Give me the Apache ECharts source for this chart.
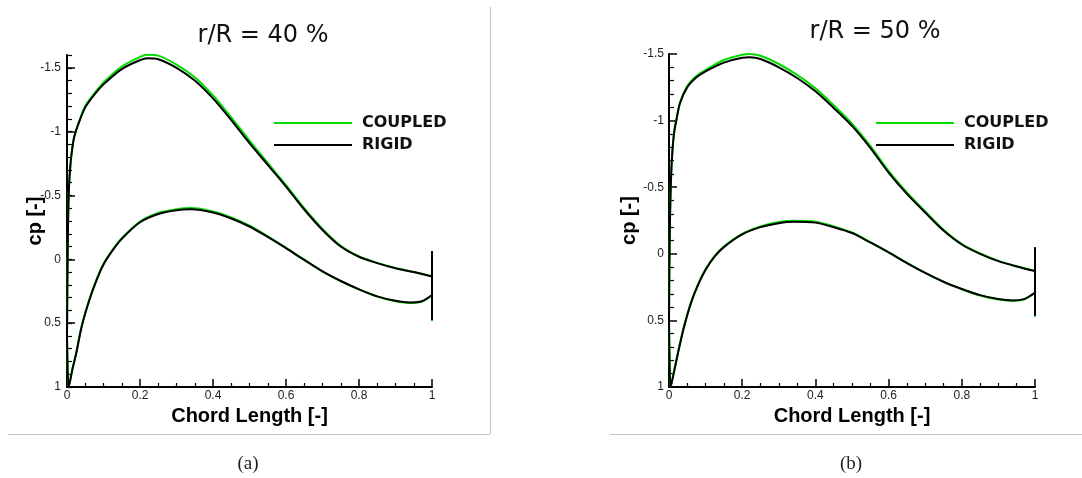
<!DOCTYPE html>
<html>
<head>
<meta charset="utf-8">
<script src="https://cdn.jsdelivr.net/npm/echarts@6/dist/echarts.min.js"></script>
<style>
html,body{margin:0;padding:0;background:#fff;}
#c{width:1082px;height:478px;}
</style>
</head>
<body>
<div id="c"></div>
<script>
// ---------- data ----------
const upperX = [0, 0.001, 0.003, 0.006, 0.01, 0.015, 0.02, 0.03, 0.05, 0.075, 0.1, 0.15, 0.2, 0.22, 0.25, 0.3, 0.35, 0.4, 0.45, 0.5, 0.55, 0.6, 0.65, 0.7, 0.75, 0.8, 0.85, 0.9, 0.95, 1.0];
const lowerX = [0.004, 0.008, 0.015, 0.025, 0.04, 0.06, 0.08, 0.1, 0.125, 0.15, 0.2, 0.25, 0.3, 0.34, 0.4, 0.45, 0.5, 0.55, 0.6, 0.65, 0.7, 0.75, 0.8, 0.85, 0.9, 0.94, 0.97, 0.99, 1.0];

// r/R = 40 %
const upper40Rigid   = [0.6, 0.2, -0.3, -0.6, -0.76, -0.88, -0.96, -1.05, -1.19, -1.29, -1.37, -1.49, -1.56, -1.575, -1.567, -1.50, -1.40, -1.26, -1.09, -0.91, -0.74, -0.57, -0.39, -0.23, -0.10, -0.02, 0.03, 0.07, 0.10, 0.135];
const upper40Coupled = [0.6, 0.2, -0.3, -0.6, -0.76, -0.88, -0.965, -1.055, -1.2, -1.3, -1.385, -1.51, -1.585, -1.602, -1.595, -1.525, -1.425, -1.283, -1.112, -0.93, -0.755, -0.58, -0.40, -0.237, -0.105, -0.022, 0.028, 0.068, 0.099, 0.133];
const lower40Rigid   = [1.0, 0.96, 0.86, 0.74, 0.53, 0.33, 0.17, 0.04, -0.07, -0.16, -0.29, -0.355, -0.385, -0.392, -0.366, -0.32, -0.257, -0.175, -0.087, 0.005, 0.095, 0.17, 0.235, 0.29, 0.325, 0.338, 0.33, 0.30, 0.28];
const lower40Coupled = [1.0, 0.955, 0.855, 0.735, 0.525, 0.325, 0.165, 0.035, -0.075, -0.165, -0.296, -0.363, -0.393, -0.401, -0.374, -0.327, -0.263, -0.18, -0.09, 0.003, 0.094, 0.17, 0.236, 0.292, 0.328, 0.342, 0.333, 0.302, 0.282];
const spike40Rigid   = [-0.065, 0.475];
const spike40Coupled = [-0.065, 0.485];

// r/R = 50 %
const upper50Rigid   = [0.5, 0.1, -0.3, -0.6, -0.8, -0.93, -1.0, -1.13, -1.25, -1.325, -1.37, -1.435, -1.472, -1.475, -1.462, -1.40, -1.32, -1.22, -1.095, -0.96, -0.795, -0.61, -0.45, -0.31, -0.175, -0.07, 0.0, 0.055, 0.095, 0.13];
const upper50Coupled = [0.5, 0.1, -0.3, -0.6, -0.8, -0.93, -1.005, -1.135, -1.26, -1.335, -1.38, -1.455, -1.495, -1.50, -1.487, -1.425, -1.343, -1.242, -1.115, -0.977, -0.81, -0.622, -0.46, -0.318, -0.18, -0.073, -0.002, 0.053, 0.094, 0.128];
const lower50Rigid   = [1.0, 0.96, 0.87, 0.74, 0.56, 0.37, 0.23, 0.12, 0.02, -0.05, -0.145, -0.2, -0.23, -0.241, -0.234, -0.2, -0.156, -0.085, -0.01, 0.07, 0.144, 0.21, 0.264, 0.31, 0.34, 0.35, 0.34, 0.31, 0.29];
const lower50Coupled = [1.0, 0.955, 0.865, 0.735, 0.555, 0.365, 0.225, 0.115, 0.015, -0.055, -0.15, -0.206, -0.238, -0.249, -0.241, -0.206, -0.16, -0.088, -0.012, 0.069, 0.144, 0.211, 0.266, 0.313, 0.343, 0.353, 0.343, 0.312, 0.292];
const spike50Rigid   = [-0.05, 0.465];
const spike50Coupled = [-0.05, 0.472];

const titles = ['r/R = 40 %', 'r/R = 50 %'];
const captions = ['(a)', '(b)'];
const seriesNames = ['COUPLED', 'RIGID'];
const xTitle = 'Chord Length [-]';
const yTitle = 'cp [-]';

// ---------- build loops ----------
function loop(upper, lower, spike) {
  const pts = [];
  for (let i = 0; i < upperX.length; i++) pts.push([upperX[i], upper[i]]);
  pts.push([1, spike[0]]);
  pts.push([1, spike[1]]);
  for (let i = lowerX.length - 1; i >= 0; i--) pts.push([lowerX[i], lower[i]]);
  pts.push([upperX[0], upper[0]]);
  return pts;
}

const GREEN = '#00dd00';
const BLACK = '#000000';
const tickFont = {fontFamily: '"Liberation Sans", Arial, sans-serif', fontSize: 12, color: '#222'};
const nameFont = {fontFamily: '"Liberation Sans", Arial, sans-serif', fontSize: 20, fontWeight: 'bold', color: '#000'};

// grid geometry
const L0 = {left: 67, top: 55, width: 365, height: 332};
const fracTop = 0.1 / 2.6;
const L1 = {left: 67, top: L0.top + L0.height * fracTop, width: 365, height: L0.height * (1 - fracTop)};
const R0 = {left: 669, top: 54, width: 366, height: 333};

function xAxisCfg(gridIndex, show) {
  return {
    type: 'value', gridIndex: gridIndex, show: show, min: 0, max: 1, interval: 0.2,
    name: xTitle, nameLocation: 'middle', nameGap: 16, nameTextStyle: nameFont,
    axisLine: {show: true, onZero: false, lineStyle: {color: '#000', width: 2}},
    axisTick: {show: true, inside: true, length: 8, lineStyle: {color: '#000', width: 1.5}},
    minorTick: {show: true, splitNumber: 4, length: 4, lineStyle: {color: '#000', width: 1.2}},
    axisLabel: Object.assign({margin: 3}, tickFont),
    splitLine: {show: false}, minorSplitLine: {show: false}
  };
}

function legendCfg(left) {
  return {
    left: left, top: 115, orient: 'vertical', padding: 0, itemGap: 6,
    icon: 'rect', itemWidth: 78, itemHeight: 2, selectedMode: false,
    data: seriesNames,
    textStyle: {fontFamily: '"DejaVu Sans", sans-serif', fontWeight: 'bold', fontSize: 16,
                color: '#111', padding: [0, 0, 0, 5], height: 14, lineHeight: 14}
  };
}

function lineSeries(name, xi, yi, data, color) {
  return {name: name, type: 'line', xAxisIndex: xi, yAxisIndex: yi, symbol: 'none', showSymbol: false,
          smooth: 0.3, data: data, lineStyle: {color: color, width: 2}, itemStyle: {color: color}};
}

const option = {
  animation: false,
  backgroundColor: '#fff',
  grid: [
    Object.assign({containLabel: false}, L0),
    Object.assign({containLabel: false}, L1),
    Object.assign({containLabel: false}, R0)
  ],
  xAxis: [
    xAxisCfg(0, true),
    xAxisCfg(1, false),
    xAxisCfg(2, true)
  ],
  yAxis: [
    {
      type: 'value', gridIndex: 0, inverse: true, min: -1.6, max: 1, interval: 0.1,
      name: yTitle, nameLocation: 'middle', nameGap: 22, nameTextStyle: nameFont,
      axisLine: {show: true, onZero: false, lineStyle: {color: '#000', width: 2}},
      axisTick: {show: true, inside: true, length: 5, lineStyle: {color: '#000', width: 1.2}},
      axisLabel: {show: false},
      splitLine: {show: false}
    },
    {
      type: 'value', gridIndex: 1, inverse: true, min: -1.5, max: 1, interval: 0.5,
      axisLine: {show: false, onZero: false},
      axisTick: {show: true, inside: true, length: 8, lineStyle: {color: '#000', width: 1.5}},
      axisLabel: Object.assign({margin: 6}, tickFont),
      splitLine: {show: false}
    },
    {
      type: 'value', gridIndex: 2, inverse: true, min: -1.5, max: 1, interval: 0.5,
      name: yTitle, nameLocation: 'middle', nameGap: 22, nameTextStyle: nameFont,
      axisLine: {show: true, onZero: false, lineStyle: {color: '#000', width: 2}},
      axisTick: {show: true, inside: true, length: 8, lineStyle: {color: '#000', width: 1.5}},
      minorTick: {show: true, splitNumber: 5, length: 5, lineStyle: {color: '#000', width: 1.2}},
      axisLabel: Object.assign({margin: 5}, tickFont),
      splitLine: {show: false}, minorSplitLine: {show: false}
    }
  ],
  legend: [legendCfg(274), legendCfg(876)],
  series: [
    lineSeries(seriesNames[0], 0, 0, loop(upper40Coupled, lower40Coupled, spike40Coupled), GREEN),
    lineSeries(seriesNames[1], 0, 0, loop(upper40Rigid, lower40Rigid, spike40Rigid), BLACK),
    lineSeries(seriesNames[0], 2, 2, loop(upper50Coupled, lower50Coupled, spike50Coupled), GREEN),
    lineSeries(seriesNames[1], 2, 2, loop(upper50Rigid, lower50Rigid, spike50Rigid), BLACK)
  ],
  graphic: [
    {type: 'text', x: 263, y: 36, style: {text: titles[0], font: '24px "DejaVu Sans", sans-serif', fill: '#111', align: 'center', verticalAlign: 'middle', textAlign: 'center', textVerticalAlign: 'middle'}},
    {type: 'text', x: 875, y: 32, style: {text: titles[1], font: '24px "DejaVu Sans", sans-serif', fill: '#111', align: 'center', verticalAlign: 'middle', textAlign: 'center', textVerticalAlign: 'middle'}},
    {type: 'text', x: 248, y: 464, style: {text: captions[0], font: '19px "Liberation Serif", "Times New Roman", serif', fill: '#222', align: 'center', verticalAlign: 'middle', textAlign: 'center', textVerticalAlign: 'middle'}},
    {type: 'text', x: 851, y: 464, style: {text: captions[1], font: '19px "Liberation Serif", "Times New Roman", serif', fill: '#222', align: 'center', verticalAlign: 'middle', textAlign: 'center', textVerticalAlign: 'middle'}},
    {type: 'line', shape: {x1: 8, y1: 434.5, x2: 490, y2: 434.5}, style: {stroke: '#c4c4c4', lineWidth: 1}},
    {type: 'line', shape: {x1: 490.5, y1: 7, x2: 490.5, y2: 434}, style: {stroke: '#c4c4c4', lineWidth: 1}},
    {type: 'line', shape: {x1: 610, y1: 434.5, x2: 1082, y2: 434.5}, style: {stroke: '#c4c4c4', lineWidth: 1}}
  ]
};

const chart = echarts.init(document.getElementById('c'), null, {renderer: 'canvas'});
chart.setOption(option);
</script>
</body>
</html>
